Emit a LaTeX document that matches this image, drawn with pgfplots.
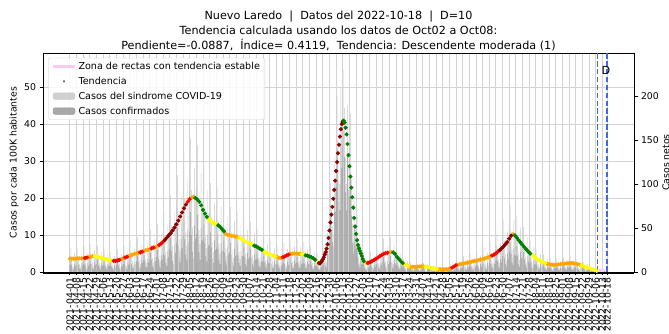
\documentclass[border=0pt]{standalone}
\usepackage{pgfplots}
\pgfplotsset{compat=1.18}
\usepackage{pgfplotstable}
\usepackage{fontspec}
\setmainfont{DejaVu Sans}
\definecolor{corange}{HTML}{FFA500}
\definecolor{cyellow}{HTML}{FFFF00}
\definecolor{cred}{HTML}{FF0000}
\definecolor{cdred}{HTML}{8B0000}
\definecolor{cgreen}{HTML}{008000}
\definecolor{lightbar}{HTML}{C8C8C8}
\definecolor{darkbar}{HTML}{999999}
\definecolor{pinkc}{HTML}{FFC8F5}
\definecolor{royal}{HTML}{4169E1}
\definecolor{gridc}{HTML}{D3D3D3}

\pgfplotstableread[row sep=\\]{
d L D\\
0 18 8\\1 27 12\\2 17 8\\3 9 4\\4 6 3\\5 21 9\\6 15 7\\
7 19 9\\8 28 13\\9 17 8\\10 9 4\\11 6 3\\12 22 10\\13 16 7\\
14 19 9\\15 29 13\\16 18 8\\17 10 4\\18 6 3\\19 22 10\\20 16 7\\
21 21 9\\22 32 14\\23 19 9\\24 11 5\\25 7 3\\26 25 11\\27 18 8\\
28 20 9\\29 30 14\\30 18 8\\31 10 5\\32 7 3\\33 23 10\\34 16 7\\
35 18 8\\36 26 12\\37 16 7\\38 9 4\\39 6 3\\40 21 9\\41 15 7\\
42 16 7\\43 23 10\\44 14 6\\45 8 4\\46 5 2\\47 18 8\\48 13 6\\
49 17 8\\50 26 12\\51 16 7\\52 9 4\\53 6 3\\54 20 9\\55 14 6\\
56 20 9\\57 30 14\\58 18 8\\59 10 5\\60 7 3\\61 24 11\\62 17 8\\
63 23 10\\64 35 16\\65 21 9\\66 12 5\\67 8 4\\68 27 12\\69 19 9\\
70 26 12\\71 39 18\\72 24 11\\73 13 6\\74 9 4\\75 31 14\\76 22 10\\
77 29 13\\78 43 19\\79 26 12\\80 14 6\\81 10 5\\82 33 15\\83 24 11\\
84 32 14\\85 48 22\\86 30 14\\87 16 7\\88 11 5\\89 38 17\\90 27 12\\
91 37 17\\92 55 25\\93 34 15\\94 18 8\\95 12 5\\96 43 19\\97 31 14\\
98 45 20\\99 68 31\\100 42 19\\101 23 10\\102 15 7\\103 53 24\\104 38 17\\
105 58 26\\106 87 39\\107 53 24\\108 29 13\\109 19 9\\110 68 31\\111 48 22\\
112 73 33\\113 110 50\\114 67 30\\115 37 17\\116 24 11\\117 85 38\\118 61 27\\
119 91 41\\120 136 61\\121 83 37\\122 45 20\\123 30 14\\124 106 48\\125 76 34\\
126 101 45\\127 152 68\\128 93 42\\129 51 23\\130 34 15\\131 118 53\\132 84 38\\
133 96 43\\134 144 65\\135 88 40\\136 48 22\\137 32 14\\138 112 50\\139 80 36\\
140 80 36\\141 120 54\\142 73 33\\143 40 18\\144 27 12\\145 93 42\\146 66 30\\
147 68 31\\148 101 45\\149 62 28\\150 34 15\\151 23 10\\152 79 36\\153 56 25\\
154 63 28\\155 95 43\\156 58 26\\157 32 14\\158 21 9\\159 74 33\\160 53 24\\
161 54 24\\162 81 36\\163 49 22\\164 27 12\\165 18 8\\166 63 28\\167 45 20\\
168 49 22\\169 74 33\\170 45 20\\171 25 11\\172 16 7\\173 58 26\\174 41 18\\
175 46 21\\176 69 31\\177 42 19\\178 23 10\\179 15 7\\180 54 24\\181 39 18\\
182 41 18\\183 62 28\\184 38 17\\185 21 9\\186 14 6\\187 48 22\\188 34 15\\
189 38 17\\190 57 26\\191 35 16\\192 19 9\\193 13 6\\194 44 20\\195 32 14\\
196 33 15\\197 49 22\\198 30 14\\199 16 7\\200 11 5\\201 38 17\\202 27 12\\
203 27 12\\204 40 18\\205 25 11\\206 13 6\\207 9 4\\208 31 14\\209 22 10\\
210 23 10\\211 35 16\\212 21 9\\213 12 5\\214 8 4\\215 27 12\\216 19 9\\
217 20 9\\218 30 14\\219 18 8\\220 10 5\\221 7 3\\222 23 10\\223 16 7\\
224 22 10\\225 33 15\\226 20 9\\227 11 5\\228 7 3\\229 26 12\\230 18 8\\
231 25 11\\232 37 17\\233 23 10\\234 12 5\\235 8 4\\236 29 13\\237 21 9\\
238 25 11\\239 37 17\\240 23 10\\241 12 5\\242 8 4\\243 29 13\\244 21 9\\
245 23 10\\246 34 15\\247 21 9\\248 11 5\\249 8 4\\250 26 12\\251 19 9\\
252 19 9\\253 29 13\\254 18 8\\255 10 4\\256 6 3\\257 22 10\\258 16 7\\
259 16 7\\260 21 9\\261 12 5\\262 6 3\\263 4 2\\264 15 7\\265 13 6\\
266 17 8\\267 30 15\\268 22 11\\269 14 7\\270 11 5\\271 44 22\\272 39 20\\
273 56 36\\274 101 66\\275 72 47\\276 52 34\\277 45 29\\278 130 85\\279 104 68\\
280 138 97\\281 200 140\\282 149 104\\283 115 80\\284 100 70\\285 210 147\\286 168 118\\
287 205 144\\288 230 161\\289 187 131\\290 130 91\\291 100 70\\292 190 133\\293 133 93\\
294 144 86\\295 180 108\\296 106 64\\297 55 33\\298 35 21\\299 85 51\\300 52 31\\
301 52 26\\302 65 33\\303 34 17\\304 16 8\\305 10 5\\306 29 15\\307 18 9\\
308 18 8\\309 22 10\\310 12 5\\311 6 3\\312 4 2\\313 14 6\\314 11 5\\
315 15 7\\316 23 10\\317 14 6\\318 8 4\\319 5 2\\320 18 8\\321 13 6\\
322 20 9\\323 30 14\\324 18 8\\325 10 5\\326 7 3\\327 24 11\\328 17 8\\
329 25 11\\330 38 17\\331 23 10\\332 13 6\\333 8 4\\334 29 13\\335 21 9\\
336 26 12\\337 39 18\\338 24 11\\339 13 6\\340 9 4\\341 31 14\\342 22 10\\
343 18 8\\344 26 12\\345 16 7\\346 9 4\\347 6 3\\348 21 9\\349 15 7\\
350 10 5\\351 15 7\\352 9 4\\353 5 2\\354 3 1\\355 12 5\\356 8 4\\
357 7 3\\358 11 5\\359 6 3\\360 4 2\\361 2 1\\362 8 4\\363 6 3\\
364 7 3\\365 11 5\\366 6 3\\367 4 2\\368 2 1\\369 8 4\\370 6 3\\
371 7 3\\372 10 5\\373 7 3\\374 3 1\\375 2 1\\376 8 4\\377 6 3\\
378 6 3\\379 8 4\\380 5 2\\381 3 1\\382 2 1\\383 6 3\\384 5 2\\
385 4 2\\386 6 3\\387 4 2\\388 2 1\\389 1 0\\390 5 2\\391 3 1\\
392 4 2\\393 6 3\\394 4 2\\395 2 1\\396 1 0\\397 5 2\\398 3 1\\
399 6 3\\400 9 4\\401 6 3\\402 3 1\\403 2 1\\404 7 3\\405 5 2\\
406 10 5\\407 15 7\\408 9 4\\409 5 2\\410 3 1\\411 12 5\\412 8 4\\
413 12 5\\414 18 8\\415 11 5\\416 6 3\\417 4 2\\418 14 6\\419 10 5\\
420 14 6\\421 21 9\\422 13 6\\423 7 3\\424 5 2\\425 17 8\\426 12 5\\
427 16 7\\428 24 11\\429 15 7\\430 8 4\\431 5 2\\432 19 9\\433 13 6\\
434 19 9\\435 28 13\\436 17 8\\437 9 4\\438 6 3\\439 22 10\\440 16 7\\
441 23 10\\442 34 15\\443 21 9\\444 11 5\\445 8 4\\446 26 12\\447 19 9\\
448 29 13\\449 43 19\\450 26 12\\451 14 6\\452 10 5\\453 33 15\\454 24 11\\
455 39 18\\456 59 27\\457 36 16\\458 20 9\\459 13 6\\460 46 21\\461 33 15\\
462 50 23\\463 76 34\\464 46 21\\465 25 11\\466 17 8\\467 59 27\\468 42 19\\
469 43 19\\470 64 29\\471 39 18\\472 21 9\\473 14 6\\474 50 23\\475 36 16\\
476 34 15\\477 51 23\\478 31 14\\479 17 8\\480 11 5\\481 40 18\\482 29 13\\
483 24 11\\484 36 16\\485 22 10\\486 12 5\\487 8 4\\488 28 13\\489 20 9\\
490 17 8\\491 26 12\\492 16 7\\493 9 4\\494 6 3\\495 20 9\\496 14 6\\
497 13 6\\498 20 9\\499 12 5\\500 7 3\\501 4 2\\502 15 7\\503 11 5\\
504 10 5\\505 15 7\\506 9 4\\507 5 2\\508 3 1\\509 12 5\\510 8 4\\
511 11 5\\512 16 7\\513 10 5\\514 5 2\\515 4 2\\516 12 5\\517 9 4\\
518 12 5\\519 17 8\\520 11 5\\521 6 3\\522 4 2\\523 14 6\\524 10 5\\
525 12 5\\526 18 8\\527 11 5\\528 6 3\\529 4 2\\530 14 6\\531 10 5\\
532 10 5\\533 15 7\\534 9 4\\535 5 2\\536 3 1\\537 12 5\\538 8 4\\
539 8 4\\540 11 5\\541 7 3\\542 4 2\\543 3 1\\544 9 4\\545 6 3\\
546 5 2\\547 8 4\\548 5 2\\549 3 1\\550 2 1\\551 6 3\\552 4 2\\
553 3 1\\554 4 2\\555 2 1\\556 1 0\\557 1 0\\558 3 1\\559 2 1\\
560 2 1\\561 3 1\\562 2 1\\563 1 0\\564 1 0\\565 1 0\\
}\bars

\begin{document}
\begin{tikzpicture}
\pgfplotsset{base/.style={at={(43pt,62pt)}, anchor=south west, width=591pt, height=219pt, scale only axis, xmin=-28.25, xmax=593.25}}
\def\tfont{\fontsize{9.33}{9.33}\selectfont}
% axis 1: grid, left ticks, x ticks
\begin{axis}[base, ymin=0, ymax=59.2,
  ytick={0,10,...,50}, ytick pos=left, xtick pos=bottom,
  tick align=outside, major tick length=3.5pt, minor tick length=2pt,
  xtick={0,7,...,560,565},
  xticklabels={2021-04-01,2021-04-08,2021-04-15,2021-04-22,2021-04-29,2021-05-06,2021-05-13,2021-05-20,2021-05-27,2021-06-03,2021-06-10,2021-06-17,2021-06-24,2021-07-01,2021-07-08,2021-07-15,2021-07-22,2021-07-29,2021-08-05,2021-08-12,2021-08-19,2021-08-26,2021-09-02,2021-09-09,2021-09-16,2021-09-23,2021-09-30,2021-10-07,2021-10-14,2021-10-21,2021-10-28,2021-11-04,2021-11-11,2021-11-18,2021-11-25,2021-12-02,2021-12-09,2021-12-16,2021-12-23,2021-12-30,2022-01-06,2022-01-13,2022-01-20,2022-01-27,2022-02-03,2022-02-10,2022-02-17,2022-02-24,2022-03-03,2022-03-10,2022-03-17,2022-03-24,2022-03-31,2022-04-07,2022-04-14,2022-04-21,2022-04-28,2022-05-05,2022-05-12,2022-05-19,2022-05-26,2022-06-02,2022-06-09,2022-06-16,2022-06-23,2022-06-30,2022-07-07,2022-07-14,2022-07-21,2022-07-28,2022-08-04,2022-08-11,2022-08-18,2022-08-25,2022-09-01,2022-09-08,2022-09-15,2022-09-22,2022-09-29,2022-10-06,2022-10-13,2022-10-18},
  minor xtick={-28,-27,...,593},
  xticklabel style={rotate=90, anchor=east, font=\tfont, inner sep=2pt},
  yticklabel style={font=\tfont},
  grid=major, grid style={gridc, line width=0.8pt},
  axis line style={line width=0.8pt},
  every tick/.style={black, line width=0.8pt},
  /pgf/number format/assume math mode=true,
]
\addplot[draw=none, forget plot] coordinates {(0,0)};
\end{axis}
% axis 2: bars on right axis
\begin{axis}[base, ymin=0, ymax=249, axis y line*=right, axis x line=none,
  ytick={0,50,...,200}, tick align=outside, major tick length=3.5pt,
  yticklabel style={font=\tfont},
  axis line style={line width=0.8pt},
  every tick/.style={black, line width=0.8pt},
  /pgf/number format/assume math mode=true,
]
\addplot[ybar, bar width=0.45, bar shift=0pt, fill=lightbar, draw=none] table[x=d,y=L]{\bars};
\addplot[ybar, bar width=0.45, bar shift=0pt, fill=darkbar, draw=none] table[x=d,y=D]{\bars};
\end{axis}
% axis 3: trend curve, legend, markers
\begin{axis}[base, ymin=0, ymax=59.2, hide axis,
  legend style={at={(0.009,0.978)}, anchor=north west, draw=black!20, rounded corners=2pt,
    fill=white, fill opacity=0.85, text opacity=1, font=\fontsize{9.6}{9.6}\selectfont,
    inner xsep=3pt, inner ysep=2pt, row sep=2.2pt},
  legend cell align=left,
]
\addlegendimage{legend image code/.code={\draw[pinkc, line width=3pt] (0pt,0pt) -- (22pt,0pt);}}
\addlegendentry{Zona de rectas con tendencia estable}
\addlegendimage{legend image code/.code={\fill[black!60] (11pt,0pt) circle (0.9pt);}}
\addlegendentry{Tendencia}
\addlegendimage{legend image code/.code={\fill[lightbar] (0pt,-3pt) rectangle (22pt,3.5pt);}}
\addlegendentry{Casos del sindrome COVID-19}
\addlegendimage{legend image code/.code={\fill[darkbar] (0pt,-3pt) rectangle (22pt,3.5pt);}}
\addlegendentry{Casos confirmados}

\addplot[only marks, mark=*, mark size=1.9pt, corange, forget plot] coordinates {(0,3.6)(2,3.6)(4,3.6)(6,3.6)(8,3.7)(10,3.7)(12,3.7)(14,3.7)(20,4.0)(22,4.1)(24,4.3)(54,3.5)(56,3.7)(62,4.3)(64,4.5)(66,4.7)(68,4.9)(70,5.0)(72,5.2)(78,5.7)(80,5.9)(82,6.0)(84,6.2)(90,6.7)(92,7.0)(128,20.1)(130,20.3)(164,10.3)(166,10.0)(168,9.9)(170,9.8)(172,9.7)(174,9.6)(176,9.5)(218,4.1)(220,3.8)(222,3.8)(232,4.9)(234,4.95)(236,5.0)(238,5.0)(240,4.95)(242,4.9)(336,5.3)(338,5.4)(358,1.4)(360,1.4)(362,1.4)(364,1.4)(366,1.45)(368,1.5)(370,1.5)(372,1.5)(388,0.75)(390,0.7)(392,0.7)(394,0.7)(396,0.75)(398,0.85)(400,1.0)(408,2.0)(410,2.1)(412,2.2)(414,2.3)(416,2.4)(418,2.5)(420,2.6)(422,2.75)(424,2.9)(426,3.0)(428,3.1)(430,3.25)(432,3.4)(434,3.5)(436,3.65)(438,3.8)(440,4.0)(442,4.2)(466,10.2)(502,2.2)(504,2.1)(506,2.0)(508,1.9)(510,1.9)(512,2.0)(514,2.05)(516,2.1)(518,2.2)(520,2.25)(522,2.3)(524,2.4)(526,2.4)(528,2.4)(530,2.35)(532,2.25)(534,2.1)(536,1.95)};
\addplot[only marks, mark=*, mark size=1.9pt, cyellow, forget plot] coordinates {(26,4.3)(28,4.2)(30,4.1)(32,3.9)(34,3.8)(36,3.6)(38,3.5)(40,3.3)(42,3.2)(44,3.1)(146,14.3)(148,13.8)(150,13.4)(152,13.1)(154,12.9)(178,9.3)(180,9.0)(182,8.7)(184,8.4)(186,8.1)(188,7.9)(190,7.6)(192,7.4)(204,5.6)(206,5.3)(208,5.0)(210,4.8)(212,4.6)(214,4.4)(216,4.2)(244,4.8)(246,4.7)(260,2.8)(261,2.6)(310,2.6)(311,2.5)(312,2.4)(352,2.1)(354,1.8)(356,1.6)(374,1.45)(376,1.4)(378,1.3)(380,1.15)(382,1.0)(384,0.9)(386,0.8)(486,4.6)(488,4.2)(490,3.8)(492,3.4)(494,3.1)(496,2.8)(498,2.6)(500,2.4)(538,1.75)(540,1.6)(542,1.4)(544,1.2)(546,1.05)(548,0.9)(550,0.7)(552,0.5)(554,0.3)};
\addplot[only marks, mark=*, mark size=1.9pt, cred, forget plot] coordinates {(16,3.8)(18,3.9)(46,3.0)(48,3.0)(50,3.1)(52,3.3)(58,3.9)(60,4.1)(74,5.3)(76,5.5)(86,6.4)(88,6.6)(94,7.3)(96,7.7)(98,8.2)(124,19.0)(126,19.7)(224,4.0)(226,4.2)(228,4.5)(230,4.7)(313,2.45)(314,2.5)(316,2.7)(318,3.0)(320,3.3)(322,3.6)(324,3.9)(326,4.3)(328,4.6)(330,4.9)(332,5.1)(334,5.2)(402,1.2)(404,1.5)(406,1.8)(444,4.45)(446,4.7)(448,5.0)(450,5.5)};
\addplot[only marks, mark=*, mark size=1.9pt, cdred, forget plot] coordinates {(100,8.7)(102,9.3)(104,9.9)(106,10.5)(108,11.2)(110,12.0)(112,12.9)(114,13.9)(116,15.0)(118,16.1)(120,17.2)(122,18.2)(262,2.4)(263,2.3)(264,2.6)(265,3.0)(266,3.4)(267,4.0)(268,4.7)(269,5.4)(270,6.3)(271,7.5)(272,9.2)(273,11.2)(274,13.4)(275,15.5)(276,17.6)(277,19.8)(278,22.2)(279,24.7)(280,27.3)(281,29.7)(282,32.1)(283,34.4)(284,36.6)(285,38.6)(286,40.0)(287,40.7)(452,5.9)(454,6.4)(456,6.9)(458,7.5)(460,8.1)(462,9.0)(464,9.8)};
\addplot[only marks, mark=*, mark size=1.9pt, cgreen, forget plot] coordinates {(132,20.0)(134,19.6)(136,19.0)(138,18.0)(140,16.8)(142,15.8)(144,14.9)(156,12.6)(158,12.2)(160,11.6)(162,11.0)(194,7.1)(196,6.9)(198,6.6)(200,6.3)(202,6.0)(248,4.5)(250,4.4)(252,4.2)(254,4.0)(256,3.7)(258,3.3)(288,40.9)(289,40.4)(290,39.0)(291,37.2)(292,34.6)(293,31.6)(294,28.6)(295,25.8)(296,22.8)(297,20.2)(298,17.4)(299,14.6)(300,12.3)(301,10.3)(302,8.6)(303,7.3)(304,6.4)(305,5.7)(306,5.0)(307,4.3)(308,3.5)(309,2.9)(340,5.3)(342,4.9)(344,4.1)(346,3.5)(348,2.9)(350,2.4)(468,9.9)(470,9.3)(472,8.6)(474,7.9)(476,7.3)(478,6.7)(480,6.1)(482,5.5)(484,5.0)};
\addplot[pinkc, line width=3pt, forget plot] coordinates {(556,0.6)(562,0.3)};
\addplot[royal, line width=1.5pt, dash pattern=on 5.5pt off 2.4pt, forget plot] coordinates {(555,0)(555,59.2)};
\addplot[royal, line width=1.5pt, dash pattern=on 5.5pt off 2.4pt, forget plot] coordinates {(565,0)(565,59.2)};
\node[anchor=west, font=\fontsize{11.2}{11.2}\selectfont, inner sep=0pt] at (axis cs:559,54.6) {D};
\end{axis}
\node[rotate=90, font=\tfont] at (14pt,171.5pt) {Casos por cada 100K habitantes};
\node[rotate=90, font=\tfont] at (666pt,171.5pt) {Casos netos};
\node[anchor=base, font=\fontsize{11.2}{11.2}\selectfont, inner sep=0pt] at (338.5pt,314.8pt) {Nuevo Laredo\ \ |\ \ Datos del 2022-10-18\ \ |\ \ D=10};
\node[anchor=base, font=\fontsize{11.2}{11.2}\selectfont, inner sep=0pt] at (338.5pt,299.6pt) {Tendencia calculada usando los datos de Oct02 a Oct08:};
\node[anchor=base, font=\fontsize{11.2}{11.2}\selectfont, inner sep=0pt] at (338.5pt,284.1pt) {Pendiente=-0.0887,\ \ Índice= 0.4119,\ \ Tendencia: Descendente moderada (1)};
\pgfresetboundingbox
\useasboundingbox (0,0) rectangle (669pt,334pt);
\end{tikzpicture}
\end{document}
